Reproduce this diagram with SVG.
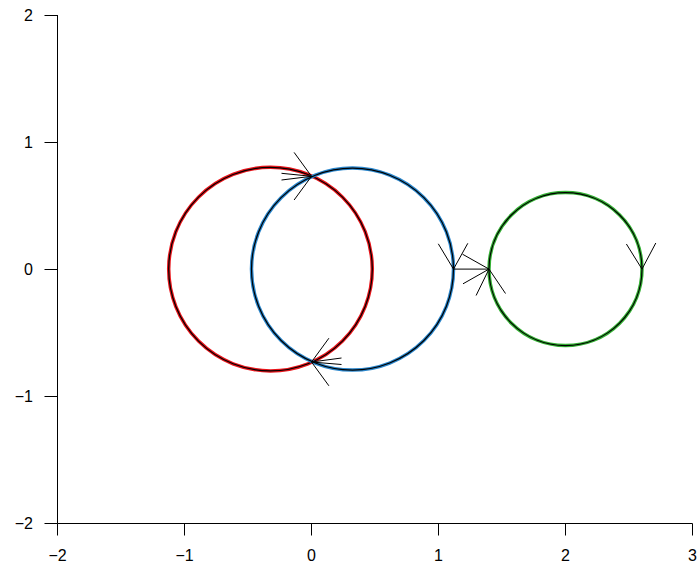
<svg xmlns="http://www.w3.org/2000/svg" width="697" height="571" viewBox="0 0 697 571">
<style>
.ax{stroke:#000;stroke-width:1;fill:none}
.lbl{font-family:"Liberation Sans",Arial,sans-serif;font-size:16px;fill:#000}
.yl{text-anchor:end}
.xl{text-anchor:middle}
.cc{fill:none;stroke-width:3.5}
.ci{fill:none;stroke:#000;stroke-width:1.2}
.ah{stroke:#000;stroke-width:1;fill:none}
</style>
<rect width="697" height="571" fill="#fff"/>
<g id="axes">
<path class="ax" d="M57.5,15 V523.5 M44.5,15.5 H57.5 M44.5,142.5 H57.5 M44.5,269.5 H57.5 M44.5,396.5 H57.5 M44.5,523.5 H57.5"/>
<path class="ax" d="M57.5,523.5 H692.5 M57.5,523.5 V535.5 M184.5,523.5 V535.5 M311.5,523.5 V535.5 M438.5,523.5 V535.5 M565.5,523.5 V535.5 M692.5,523.5 V535.5"/>
<text class="lbl yl" x="33" y="21">2</text>
<text class="lbl yl" x="33" y="148">1</text>
<text class="lbl yl" x="33" y="275">0</text>
<text class="lbl yl" x="33" y="402">−1</text>
<text class="lbl yl" x="33" y="529">−2</text>
<text class="lbl xl" x="57.5" y="561">−2</text>
<text class="lbl xl" x="184.5" y="561">−1</text>
<text class="lbl xl" x="311.5" y="561">0</text>
<text class="lbl xl" x="438.5" y="561">1</text>
<text class="lbl xl" x="565.5" y="561">2</text>
<text class="lbl xl" x="692.5" y="561">3</text>
</g>
<g id="red-circle">
<circle class="cc" cx="270.5" cy="269.1" r="101.8" stroke="#e8141a"/>
<circle class="ci" cx="270.5" cy="269.1" r="101.8"/>
</g>
<g id="blue-circle">
<circle class="cc" cx="352.5" cy="269.1" r="101" stroke="#2a86cc"/>
<circle class="ci" cx="352.5" cy="269.1" r="101"/>
</g>
<g id="green-circle">
<circle class="cc" cx="565.5" cy="269.1" r="76.5" stroke="#33b033"/>
<circle class="ci" cx="565.5" cy="269.1" r="76.5"/>
</g>
<g id="connectors">
<path class="ah" d="M294.1,152.4 L311.5,176.3 L281.5,180"/>
<path class="ah" d="M281.5,173.3 L311.5,176.3 L294.1,200"/>
<path class="ah" d="M328.9,338.2 L311.5,362 L341.5,364.5"/>
<path class="ah" d="M328.9,385.8 L311.5,362 L341.5,358"/>
<path class="ah" d="M438.3,243.8 L453.5,269.1 L467.8,243.3"/>
<path class="ah" d="M453.5,269.1 H489"/>
<path class="ah" d="M462.5,254.2 L489,269.1 L463,283.8"/>
<path class="ah" d="M476.1,295.5 L489,269.1 L505.5,293.5"/>
<path class="ah" d="M626.4,244 L642,269.1 L655.8,243"/>
</g>
</svg>
